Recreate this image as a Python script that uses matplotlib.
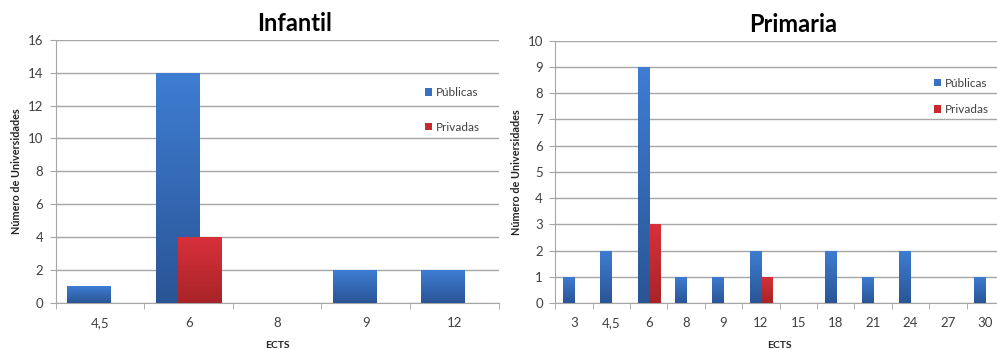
import numpy as np
import matplotlib.pyplot as plt
from matplotlib.colors import LinearSegmentedColormap

# Infantil
inf_cats = ['4,5', '6', '8', '9', '12']
inf_pub = [1, 14, 0, 2, 2]
inf_priv = [0, 4, 0, 0, 0]

# Primaria
pri_cats = ['3', '4,5', '6', '8', '9', '12', '15', '18', '21', '24', '27', '30']
pri_pub = [1, 2, 9, 1, 1, 2, 0, 2, 1, 2, 0, 1]
pri_priv = [0, 0, 3, 0, 0, 1, 0, 0, 0, 0, 0, 0]

blue = '#3a70c2'
red = '#c42a30'
blue_grad = LinearSegmentedColormap.from_list('b', ['#2a5596', '#3e7dd2'])
red_grad = LinearSegmentedColormap.from_list('r', ['#a82428', '#d8303a'])
grid_c = '#a6a6a6'
txt_c = '#404040'

plt.rcParams['font.family'] = ['Lato', 'DejaVu Sans']

fig = plt.figure(figsize=(9.97, 3.49), dpi=100)
ax1 = fig.add_axes([0.056, 0.132, 0.444, 0.754])
ax2 = fig.add_axes([0.557, 0.132, 0.450, 0.751])


def gradient_bars(ax, bars, cmap, z):
    # fill every bar with a vertical gradient (Excel 2007 look)
    grad = np.linspace(1, 0, 64).reshape(-1, 1)
    for b in bars:
        h = b.get_height()
        if h <= 0:
            continue
        x0 = b.get_x()
        im = ax.imshow(grad, cmap=cmap, extent=[x0, x0 + b.get_width(), 0, h],
                       aspect='auto', zorder=z, interpolation='bilinear')
        im.set_clip_path(b)


def draw(ax, cats, pub, priv, ymax, off, width, title, title_x, ypad, leg_pos, spacing):
    x = np.arange(len(cats))
    b1 = ax.bar(x - off, pub, width, color=blue, label='Públicas', zorder=3)
    gradient_bars(ax, b1, blue_grad, 3.5)
    b2 = ax.bar(x + off, priv, width, color=red, label='Privadas', zorder=4)
    gradient_bars(ax, b2, red_grad, 4.5)
    ax.set_xlim(-0.5, len(cats) - 0.5)
    ax.set_ylim(0, ymax)
    ax.set_yticks(range(0, ymax + 1, 2 if ymax > 10 else 1))
    ax.yaxis.grid(True, color=grid_c, linewidth=1)
    ax.set_axisbelow(True)
    ax.set_xticks(x)
    ax.set_xticklabels(cats)
    ax.set_xticks(np.arange(-0.5, len(cats)), minor=True)
    ax.tick_params(axis='x', which='major', length=0, pad=10, labelsize=9.5, colors=txt_c)
    ax.tick_params(axis='x', which='minor', length=4, color=grid_c)
    ax.tick_params(axis='y', length=4, pad=ypad, color=grid_c, labelsize=9.5, labelcolor=txt_c)
    for s in ['top', 'right']:
        ax.spines[s].set_visible(False)
    for s in ['left', 'bottom']:
        ax.spines[s].set_color(grid_c)
    ax.set_title(title, fontsize=17, fontweight='bold', pad=6, x=title_x)
    ax.set_xlabel('ECTS', fontsize=7.5, fontweight='bold', labelpad=9, color='#262626')
    ax.set_ylabel('Número de Universidades', fontsize=7.8, fontweight='bold', labelpad=4,
                  color='#262626')
    ax.legend(loc='upper left', bbox_to_anchor=leg_pos, frameon=False, fontsize=8.5,
              handlelength=0.6, handleheight=0.6, handletextpad=0.3, labelspacing=spacing,
              labelcolor=txt_c)


draw(ax1, inf_cats, inf_pub, inf_priv, 16, 0.125, 0.49, 'Infantil', 0.54, 5,
     (0.81, 0.86), 2.0)
draw(ax2, pri_cats, pri_pub, pri_priv, 10, 0.15, 0.3, 'Primaria', 0.53, 5,
     (0.82, 0.9), 1.3)

fig.savefig('out.png', dpi=100)
